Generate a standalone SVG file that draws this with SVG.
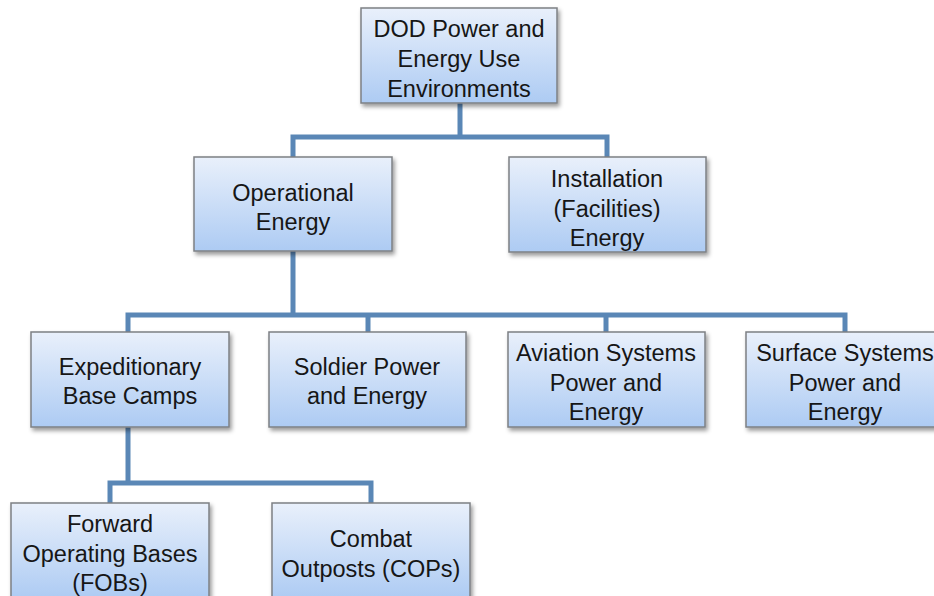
<svg xmlns="http://www.w3.org/2000/svg" width="934" height="596" viewBox="0 0 934 596">
<defs>
<linearGradient id="g" x1="0" y1="0" x2="0" y2="1">
<stop offset="0" stop-color="#e9f0fb"/>
<stop offset="1" stop-color="#adcbf3"/>
</linearGradient>
<filter id="sh" x="-10%" y="-10%" width="125%" height="130%">
<feDropShadow dx="2" dy="3" stdDeviation="2" flood-color="#000" flood-opacity="0.4"/>
</filter>
</defs>
<style>
.box{fill:url(#g);stroke:#7d8084;stroke-width:1.5;filter:url(#sh)}
.t{font-family:"Liberation Sans",Arial,sans-serif;font-size:23.5px;fill:#161616;text-anchor:middle}
.c{fill:none;stroke:#5a87b6;stroke-width:5;stroke-linejoin:miter}
</style>
<rect width="934" height="596" fill="#ffffff"/>
<g id="connectors">
<path class="c" d="M460 103 V137 M293 157 V137 H607 V157"/>
<path class="c" d="M293 251 V315 M128 332 V315 H845 V332 M368 315 V332 M606 315 V332"/>
<path class="c" d="M128 427 V483 M110 503 V483 H371 V503"/>
</g>
<g id="root">
<rect class="box" x="361" y="8" width="196" height="95"/>
<text class="t" x="459" y="37">DOD Power and</text>
<text class="t" x="459" y="67">Energy Use</text>
<text class="t" x="459" y="97">Environments</text>
</g>
<g id="operational">
<rect class="box" x="194" y="157" width="198" height="94"/>
<text class="t" x="293" y="201">Operational</text>
<text class="t" x="293" y="230">Energy</text>
</g>
<g id="installation">
<rect class="box" x="509" y="157" width="197" height="95"/>
<text class="t" x="607" y="187">Installation</text>
<text class="t" x="607" y="217">(Facilities)</text>
<text class="t" x="607" y="246">Energy</text>
</g>
<g id="expeditionary">
<rect class="box" x="31" y="332" width="198" height="95"/>
<text class="t" x="130" y="375">Expeditionary</text>
<text class="t" x="130" y="404">Base Camps</text>
</g>
<g id="soldier">
<rect class="box" x="269" y="332" width="197" height="95"/>
<text class="t" x="367" y="375">Soldier Power</text>
<text class="t" x="367" y="404">and Energy</text>
</g>
<g id="aviation">
<rect class="box" x="508" y="332" width="197" height="95"/>
<text class="t" x="606" y="361">Aviation Systems</text>
<text class="t" x="606" y="391">Power and</text>
<text class="t" x="606" y="420">Energy</text>
</g>
<g id="surface">
<rect class="box" x="746" y="332" width="198" height="95"/>
<text class="t" x="845" y="361">Surface Systems</text>
<text class="t" x="845" y="391">Power and</text>
<text class="t" x="845" y="420">Energy</text>
</g>
<g id="fobs">
<rect class="box" x="11" y="503" width="198" height="96"/>
<text class="t" x="110" y="532">Forward</text>
<text class="t" x="110" y="562">Operating Bases</text>
<text class="t" x="110" y="591">(FOBs)</text>
</g>
<g id="cops">
<rect class="box" x="272" y="503" width="198" height="96"/>
<text class="t" x="371" y="547">Combat</text>
<text class="t" x="371" y="577">Outposts (COPs)</text>
</g>
</svg>
